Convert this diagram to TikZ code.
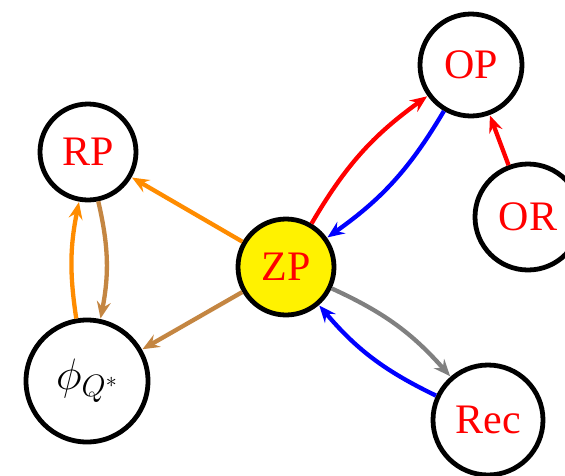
\documentclass[tikz,border=0pt]{standalone}
\usepackage{fix-cm}
\usepackage{fontspec}
\setmainfont{Liberation Serif}
\DeclareMathSizes{44}{44}{31}{22}
\usetikzlibrary{arrows.meta}
\definecolor{myorange}{RGB}{255,140,0}
\definecolor{mybrown}{RGB}{196,134,66}
\begin{document}
\begin{tikzpicture}[x=1pt,y=-1pt,
  st/.style={circle,draw=black,line width=4.8pt,fill=white,text=red,inner sep=0pt,
    font=\fontsize{42}{48}\selectfont},
  arr/.style={line width=4.3pt,-{Stealth[length=17pt,width=14pt,inset=6pt]},shorten >=0.5pt}]
\useasboundingbox (0,0) rectangle (565,475);
\node[st,minimum size=96pt] (RP) at (88,152) {RP};
\node[st,minimum size=122pt,text=black,font=\fontsize{44}{50}\selectfont] (PHI) at (87,381) {$\phi_{Q^*}$};
\node[st,minimum size=96pt,fill=yellow] (ZP) at (286,267) {ZP};
\node[st,minimum size=102pt] (OP) at (471,65) {OP};
\node[st,minimum size=106pt] (OR) at (528,217) {OR};
\node[st,minimum size=110pt] (Rec) at (488,420) {Rec};
\draw[arr,myorange] (ZP) -- (RP);
\draw[arr,mybrown] (ZP) -- (PHI);
\draw[arr,myorange] (PHI) to[bend left=10] (RP);
\draw[arr,mybrown] (RP) to[bend left=12] (PHI);
\draw[arr,red] (ZP) to[bend left=12] (OP);
\draw[arr,blue] (OP) to[bend left=12] (ZP);
\draw[arr,red] (OR) -- (OP);
\draw[arr,gray] (ZP) to[bend left=12] (Rec);
\draw[arr,blue] (Rec) to[bend left=12] (ZP);
\end{tikzpicture}
\end{document}
